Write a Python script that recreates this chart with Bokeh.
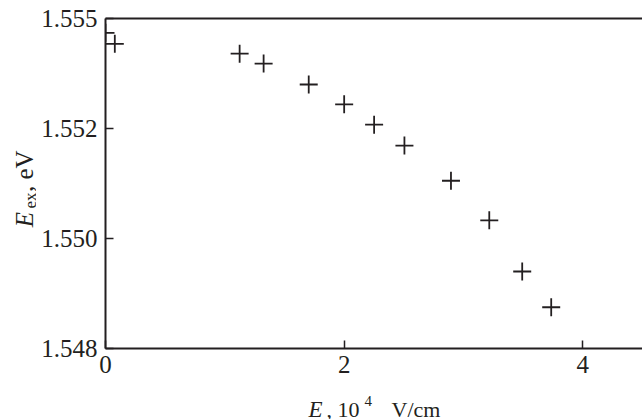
import math
from bokeh.plotting import figure
from bokeh.layouts import row, column
from bokeh.models import Range1d, FixedTicker, LinearAxis, PrintfTickFormatter
from bokeh.core.properties import value
from bokeh.embed import file_html
from bokeh.resources import INLINE

# data (E field in 10^4 V/cm, exciton energy in eV)
field = [0.0, 0.078, 1.124, 1.325, 1.703, 2.000, 2.251, 2.505, 2.895, 3.216, 3.492, 3.735]
energy = [1.55374, 1.55354, 1.55336, 1.55318, 1.55280, 1.55244, 1.55207, 1.55169,
          1.55105, 1.55033, 1.54940, 1.54875]
x_ticks = [0, 2, 4]
y_ticks = [1.548, 1.550, 1.552, 1.554]
y_tick_labels = ["1.548", "1.550", "1.552", "1.555"]

INK = "#231f20"
FONT = "Liberation Serif"

W, H = 642, 419
YLAB_W = 36
MAIN_H = 384
FL, FT, FB = 105, 18, 348  # frame pixel edges in the page

X0, X1 = 0.0, 4.5
Y0, Y1 = 1.548, 1.554


def blank(width, height):
    f = figure(width=width, height=height, x_range=Range1d(0, width), y_range=Range1d(0, height),
               output_backend="svg", toolbar_location=None, title=None,
               x_axis_location=None, y_axis_location=None,
               min_border_left=0, min_border_right=0, min_border_top=0, min_border_bottom=0)
    f.outline_line_color = None
    f.xgrid.visible = False
    f.ygrid.visible = False
    return f


p = figure(width=W - YLAB_W, height=MAIN_H, x_range=Range1d(X0, X1), y_range=Range1d(Y0, Y1),
           output_backend="svg", toolbar_location=None, title=None,
           min_border_left=FL - YLAB_W, min_border_right=0, min_border_top=FT,
           min_border_bottom=MAIN_H - FB)
p.outline_line_color = None
p.xgrid.visible = False
p.ygrid.visible = False

for ax in (p.xaxis[0], p.yaxis[0]):
    ax.axis_line_width = 2
    ax.axis_line_color = INK
    ax.major_tick_in = 8
    ax.major_tick_out = 0
    ax.major_tick_line_width = 1.5
    ax.major_tick_line_color = INK
    ax.minor_tick_line_color = None
    ax.major_label_text_font = FONT
    ax.major_label_text_font_size = "25px"
    ax.major_label_text_color = INK

p.xaxis.ticker = FixedTicker(ticks=x_ticks)
p.xaxis.major_label_standoff = 7
p.yaxis.ticker = FixedTicker(ticks=y_ticks)
p.yaxis.formatter = PrintfTickFormatter(format="%.3f")
p.yaxis.major_label_overrides = {t: s for t, s in zip(y_ticks, y_tick_labels)}
p.yaxis.major_label_standoff = 8

top = LinearAxis(ticker=FixedTicker(ticks=[]), major_label_text_font_size="0px",
                 axis_line_width=2, axis_line_color=INK, major_tick_line_color=None,
                 minor_tick_line_color=None)
p.add_layout(top, "above")

p.scatter(field, energy, marker="cross", size=18, line_width=1.8, line_color=INK)

common = dict(text_font=value(FONT), text_color=INK, text_baseline="alphabetic", text_align="left")

# y axis label panel: "E_ex, eV" rotated
ylab = blank(YLAB_W, MAIN_H)
rot = math.pi / 2
ylab.text(x=[24], y=[MAIN_H - 243], text=["E"], angle=rot, text_font_style="italic",
          text_font_size="25px", **common)
ylab.text(x=[30], y=[MAIN_H - 221], text=["ex"], angle=rot,
          text_font_size="17px", **common)
ylab.text(x=[24], y=[MAIN_H - 202], text=[", eV"], angle=rot,
          text_font_size="25px", **common)

# x axis label panel: "E, 10^4 V/cm"
XL_H = H - MAIN_H
xlab = blank(W, XL_H)
xlab.text(x=[308], y=[H - 409], text=["E"], text_font_style="italic",
          text_font_size="23px", **common)
xlab.text(x=[326], y=[H - 409], text=[", 10"], text_font_size="22px", **common)
xlab.text(x=[364], y=[H - 400], text=["4"], text_font_size="15px", **common)
xlab.text(x=[391], y=[H - 409], text=["V/cm"], text_font_size="22px", **common)

layout = column(row(ylab, p, spacing=0), xlab, spacing=0)

open("out.html", "w").write(file_html(layout, INLINE))
